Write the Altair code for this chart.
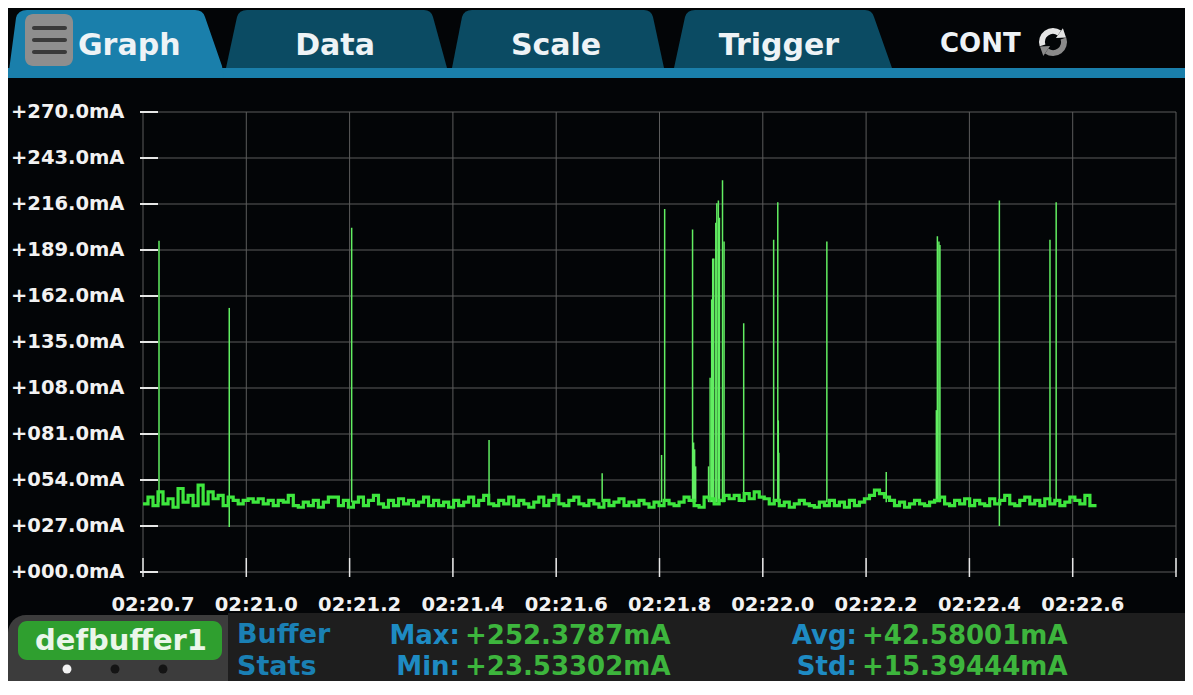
import altair as alt
import pandas as pd

# ---------------- data ----------------
Y_TICKS = [0, 27, 54, 81, 108, 135, 162, 189, 216, 243, 270]
Y_LABELS = ["+000.0mA", "+027.0mA", "+054.0mA", "+081.0mA", "+108.0mA", "+135.0mA",
            "+162.0mA", "+189.0mA", "+216.0mA", "+243.0mA", "+270.0mA"]
X_TICKS = [20.8, 21.0, 21.2, 21.4, 21.6, 21.8, 22.0, 22.2, 22.4, 22.6, 22.8]
X_LABELS = ["02:20.7", "02:21.0", "02:21.2", "02:21.4", "02:21.6", "02:21.8",
            "02:22.0", "02:22.2", "02:22.4", "02:22.6", ""]

SAMPLE_START = 20.8      # s (within minute 02)
SAMPLE_STEP = 0.0097     # s between plotted samples
BASELINE_MA = [
    40, 44, 39, 47, 40, 43, 38, 49, 41, 45, 39, 51, 40, 47, 43, 45, 39, 44,
    42, 40, 42, 43, 41, 43, 40, 42, 39, 42, 41, 45, 39, 38, 41, 39, 42, 38, 41, 44,
    44, 39, 42, 38, 41, 44, 39, 42, 45, 40, 38, 42, 39, 43, 40, 42, 39, 41, 44, 39,
    42, 39, 41, 38, 42, 39, 41, 44, 39, 42, 45, 40, 39, 42, 40, 44, 39, 42, 40, 38,
    41, 44, 39, 42, 45, 40, 39, 42, 44, 40, 39, 42, 40, 38, 42, 39, 41, 43, 39, 41,
    39, 42, 40, 38, 41, 39, 42, 40, 39, 41, 44, 42, 39, 38, 44, 43, 40, 42, 45, 43,
    45, 42, 46, 43, 47, 44, 43, 40, 42, 39, 41, 38, 40, 42, 40, 39, 38, 41, 39, 42,
    39, 41, 38, 42, 39, 41, 43, 45, 48, 46, 44, 42, 39, 41, 38, 40, 42, 40, 39, 41,
    42, 44, 40, 39, 42, 40, 43, 39, 42, 40, 39, 43, 40, 42, 45, 40, 39, 42, 44, 40,
    42, 39, 43, 40, 42, 39, 41, 44, 42, 40, 45, 39, 38,
]

SPIKE_T = [20.831, 20.967, 21.204, 21.470, 21.689, 21.804, 21.810, 21.864, 21.866,
           21.868, 21.870, 21.895, 21.898, 21.901, 21.903, 21.905, 21.909, 21.911,
           21.914, 21.916, 21.922, 21.925, 21.963, 22.021, 22.029, 22.030, 22.031,
           22.124, 22.239, 22.336, 22.338, 22.341, 22.343, 22.458, 22.556, 22.568]
SPIKE_TOP = [194.5, 155, 202, 77.5, 58, 68.7, 213, 201, 76, 72, 62, 62, 114, 160,
             184, 184, 205, 216.5, 218, 208, 230, 194, 146, 195, 217, 89, 70,
             194, 58.7, 95, 197, 194, 192, 218, 195, 217]
SPIKE_LOW = [41, 26.4, 41, 41, 41, 41, 41, 41, 41, 41, 41, 41, 41, 41, 41, 41, 41, 41,
             41, 41, 41, 41, 41, 41, 41, 41, 41, 41, 41, 41, 41, 41, 41, 27, 41, 41]

TABS = ["Graph", "Data", "Scale", "Trigger"]
STAT_NAMES = ["Max:", "Min:", "Avg:", "Std:"]
STAT_VALUES = ["+252.3787mA", "+23.53302mA", "+42.58001mA", "+15.39444mA"]
BUFFER_NAME = "defbuffer1"

# ---------------- layout / style ----------------
OX, OY = 143, 112          # page position of plot origin
W, H = 1033, 460
PAGE_R, PAGE_B = 1185, 681  # keep inside the window (no scrollbars)
FONT = "DejaVu Sans"


def vx(p):
    return p - OX


def vy(p):
    return p - OY


def path(cmds):
    out = []
    for c in cmds:
        op, nums = c[0], c[1:]
        pts = []
        for i in range(0, len(nums), 2):
            pts.append(f"{vx(nums[i])},{vy(nums[i + 1])}")
        out.append(op + " " + " ".join(pts))
    return " ".join(out) + " Z"


one = pd.DataFrame({"k": [0]})
xs = alt.Scale(domain=[20.8, 22.8], nice=False, zero=False)
ys = alt.Scale(domain=[0, 270], nice=False, zero=False)


def shape(p, color):
    return alt.Chart(one).mark_point(shape=p, size=4, filled=True, fill=color,
                                     opacity=1, strokeWidth=0).encode(
        x=alt.value(0), y=alt.value(0))


def rect(x1, x2, y1, y2, color, **kw):
    return alt.Chart(one).mark_rect(color=color, **kw).encode(
        x=alt.value(vx(x1)), x2=alt.value(vx(x2)),
        y=alt.value(vy(y1)), y2=alt.value(vy(y2)))


def text(t, x, y, size, color, align="left", baseline="alphabetic"):
    return alt.Chart(one).mark_text(text=t, font=FONT, fontWeight="bold", fontSize=size,
                                    color=color, align=align, baseline=baseline).encode(
        x=alt.value(vx(x)), y=alt.value(vy(y)))


layers = []

# --- top tab bar ---
BLUE = "#1a7fab"
DARK = "#0b4b63"
layers.append(rect(8, PAGE_R, 68, 78, BLUE))
layers.append(shape(path([("M", 8, 78), ("L", 16, 18), ("Q", 18, 10, 27, 10), ("L", 195, 10),
                          ("Q", 203, 10, 205, 17), ("L", 222, 66), ("L", 224, 78)]), BLUE))
for (a, b, c, d) in [(226, 237, 433, 447), (452, 462, 653, 664), (674, 685, 874, 892)]:
    layers.append(shape(path([("M", a, 68), ("L", b, 17), ("Q", b + 2, 10, b + 10, 10),
                              ("L", c - 9, 10), ("Q", c - 2, 10, c, 17), ("L", d, 68)]), DARK))
# hamburger icon
layers.append(rect(25, 73, 14, 66, "#8e8e8e", cornerRadius=8))
for cy in [28, 40, 52]:
    layers.append(rect(32, 67, cy - 2, cy + 2, "#3a3a3a", cornerRadius=2))
TAB_TXT = "#eef3f6"
layers.append(text(TABS[0], 78, 55, 30, TAB_TXT))
for name, cx in zip(TABS[1:], [335, 556, 779]):
    layers.append(text(name, cx, 55, 30, TAB_TXT, align="center"))
layers.append(text("CONT", 940, 52, 26, TAB_TXT))
# refresh icon
ICX, ICY = 1053, 42
layers.append(alt.Chart(one).mark_arc(theta=4.4, theta2=6.9, radius=14, radius2=8,
                                      color="#e4e4e4").encode(
    x=alt.value(vx(ICX)), y=alt.value(vy(ICY))))
layers.append(alt.Chart(one).mark_arc(theta=1.25, theta2=3.75, radius=14, radius2=8,
                                      color="#8a8a8a").encode(
    x=alt.value(vx(ICX)), y=alt.value(vy(ICY))))
layers.append(shape(path([("M", 1062.9, 28.2), ("L", 1066, 37.5), ("L", 1055.9, 38.0)]), "#e4e4e4"))
layers.append(shape(path([("M", 1043.3, 55.9), ("L", 1040, 46.5), ("L", 1050.1, 46.1)]), "#8a8a8a"))

# --- plot: grid, ticks, labels ---
ydf = pd.DataFrame({"v": Y_TICKS, "label": Y_LABELS})
xdf = pd.DataFrame({"t": X_TICKS, "label": X_LABELS})
GRID = "#5c5c5c"
layers.append(alt.Chart(xdf).mark_rule(color=GRID, strokeWidth=1).encode(
    x=alt.X("t:Q", scale=xs, axis=None), y=alt.value(0), y2=alt.value(H)))
layers.append(alt.Chart(ydf).mark_rule(color=GRID, strokeWidth=1).encode(
    y=alt.Y("v:Q", scale=ys, axis=None), x=alt.value(0), x2=alt.value(W)))
layers.append(alt.Chart(ydf).mark_rule(color="#e6e6e6", strokeWidth=2).encode(
    y=alt.Y("v:Q", scale=ys, axis=None), x=alt.value(-3), x2=alt.value(15)))
layers.append(alt.Chart(xdf).mark_rule(color="#e6e6e6", strokeWidth=1.5).encode(
    x=alt.X("t:Q", scale=xs, axis=None), y=alt.value(vy(558)), y2=alt.value(vy(577))))
layers.append(alt.Chart(ydf).mark_text(font=FONT, fontWeight="bold", fontSize=19.5,
                                       color="#f2f2f2", align="left", baseline="middle").encode(
    y=alt.Y("v:Q", scale=ys, axis=None), x=alt.value(vx(11)), text="label:N"))
layers.append(alt.Chart(xdf).mark_text(font=FONT, fontWeight="bold", fontSize=19.5, dx=10,
                                       color="#f2f2f2", align="center", baseline="alphabetic").encode(
    x=alt.X("t:Q", scale=xs, axis=None), y=alt.value(vy(611)), text="label:N"))

# --- data trace ---
base_df = pd.DataFrame({
    "t": [SAMPLE_START + i * SAMPLE_STEP for i in range(len(BASELINE_MA))],
    "v": BASELINE_MA,
})
spike_df = pd.DataFrame({"t": SPIKE_T, "top": SPIKE_TOP, "low": SPIKE_LOW})
layers.append(alt.Chart(spike_df).mark_rule(color="#62ee62", strokeWidth=1.5).encode(
    x=alt.X("t:Q", scale=xs, axis=None),
    y=alt.Y("low:Q", scale=ys, axis=None), y2="top:Q"))
layers.append(alt.Chart(base_df).mark_line(color="#3ee63e", strokeWidth=3.2,
                                           interpolate="step-after").encode(
    x=alt.X("t:Q", scale=xs, axis=None), y=alt.Y("v:Q", scale=ys, axis=None)))

# --- bottom stats panel ---
layers.append(rect(228, PAGE_R, 613, PAGE_B, "#1e1e1e"))
layers.append(rect(8, 228, 615, PAGE_B, "#3c3c3c", cornerRadiusTopLeft=18))
layers.append(rect(18, 222, 621, 660, "#2f9f2f", cornerRadius=9))
layers.append(text(BUFFER_NAME, 121, 650, 29, "#eaf6ea", align="center"))
for cx, col in [(67, "#f2f2f2"), (115, "#141414"), (163, "#141414")]:
    layers.append(alt.Chart(one).mark_point(filled=True, size=80, color=col, opacity=1).encode(
        x=alt.value(vx(cx)), y=alt.value(vy(669))))
LBL = "#1e8bc3"
VAL = "#3db53d"
layers.append(text("Buffer", 237, 643, 27, "#1a80b4"))
layers.append(text("Stats", 237, 675, 27, "#1a80b4"))
stat_pos = [(460, 644), (460, 675), (857, 644), (857, 675)]
for name, val, (px, py) in zip(STAT_NAMES, STAT_VALUES, stat_pos):
    layers.append(text(name, px, py, 26, LBL, align="right"))
    layers.append(text(val, px + 5, py, 26, VAL))

chart = alt.layer(*layers).properties(
    width=W, height=H,
    padding={"left": OX - 8, "top": OY - 8, "right": PAGE_R - (OX + W), "bottom": PAGE_B - (OY + H)},
    autosize=alt.AutoSizeParams(type="none"),
    background="#030507",
).configure_view(stroke=None)

chart.save("out.html", embed_options={"renderer": "svg", "actions": False})
